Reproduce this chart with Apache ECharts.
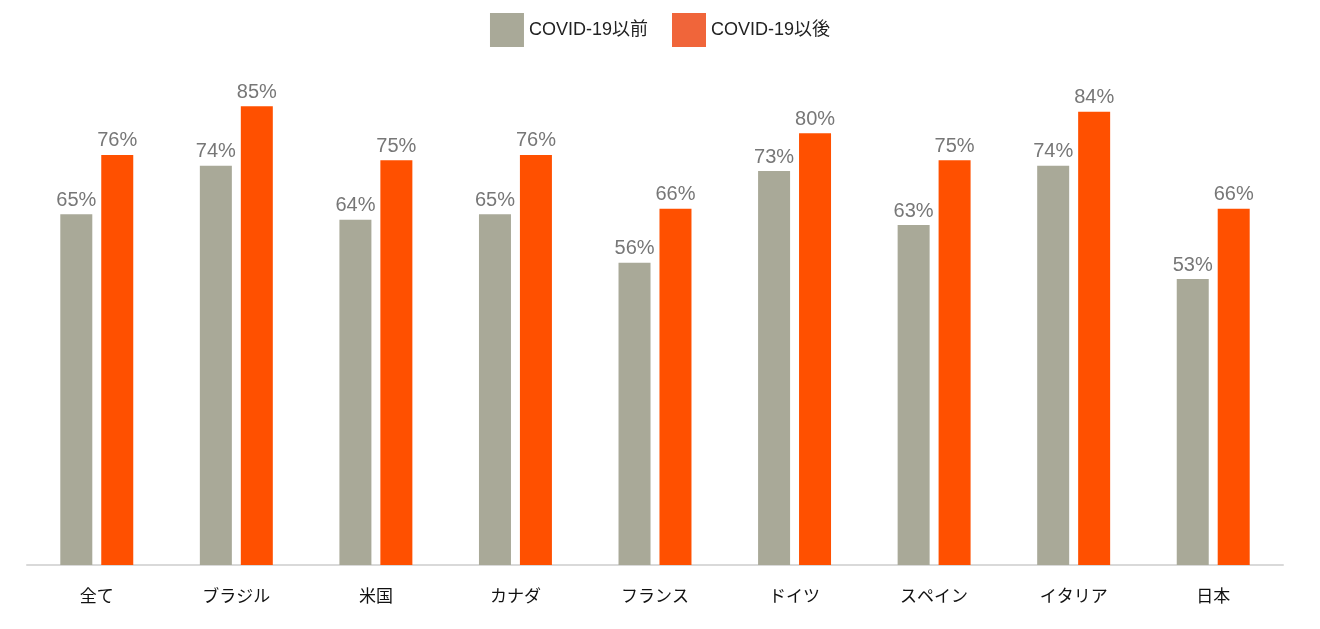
<!DOCTYPE html>
<html><head><meta charset="utf-8">
<script src="https://cdn.jsdelivr.net/npm/echarts@6/dist/echarts.min.js"></script>
<style>html,body{margin:0;padding:0;background:#fff}#c{width:1320px;height:629px}</style>
</head><body><div id="c"></div>
<script>
const categories = ['全て','ブラジル','米国','カナダ','フランス','ドイツ','スペイン','イタリア','日本'];
const before = [65,74,64,65,56,73,63,74,53];
const after = [76,85,75,76,66,80,75,84,66];
const seriesNames = ['COVID-19以前','COVID-19以後'];
const font = '"Noto Sans CJK JP", "Noto Sans", sans-serif';
const chart = echarts.init(document.getElementById('c'));
const lbl = {show:true,position:'top',formatter:'{c}%',color:'#777',fontSize:20,fontFamily:'Liberation Sans, Arial, sans-serif',distance:4};
chart.setOption({
  animation:false,
  legend:{top:8,left:'center',icon:'rect',itemWidth:34,itemHeight:34,itemGap:24,
    textStyle:{fontSize:18,color:'#222',fontFamily:'Liberation Sans, "Noto Sans CJK JP", sans-serif'},
    data:[{name:seriesNames[0],itemStyle:{color:'#A9A998'}},{name:seriesNames[1],itemStyle:{color:'#F0653A'}}]},
  grid:{left:27,right:37,top:20,bottom:64},
  xAxis:{type:'category',data:categories,axisTick:{show:false},
    axisLine:{lineStyle:{color:'#d9d9d9',width:2}},
    axisLabel:{color:'#111',fontSize:17,fontFamily:font,margin:22}},
  yAxis:{type:'value',min:0,max:101,show:false,splitLine:{show:false}},
  series:[
    {name:seriesNames[0],type:'bar',data:before,barWidth:32,barGap:'28%',itemStyle:{color:'#A9A998'},label:lbl},
    {name:seriesNames[1],type:'bar',data:after,barWidth:32,itemStyle:{color:'#FF5000'},label:lbl}
  ]
});
</script></body></html>
